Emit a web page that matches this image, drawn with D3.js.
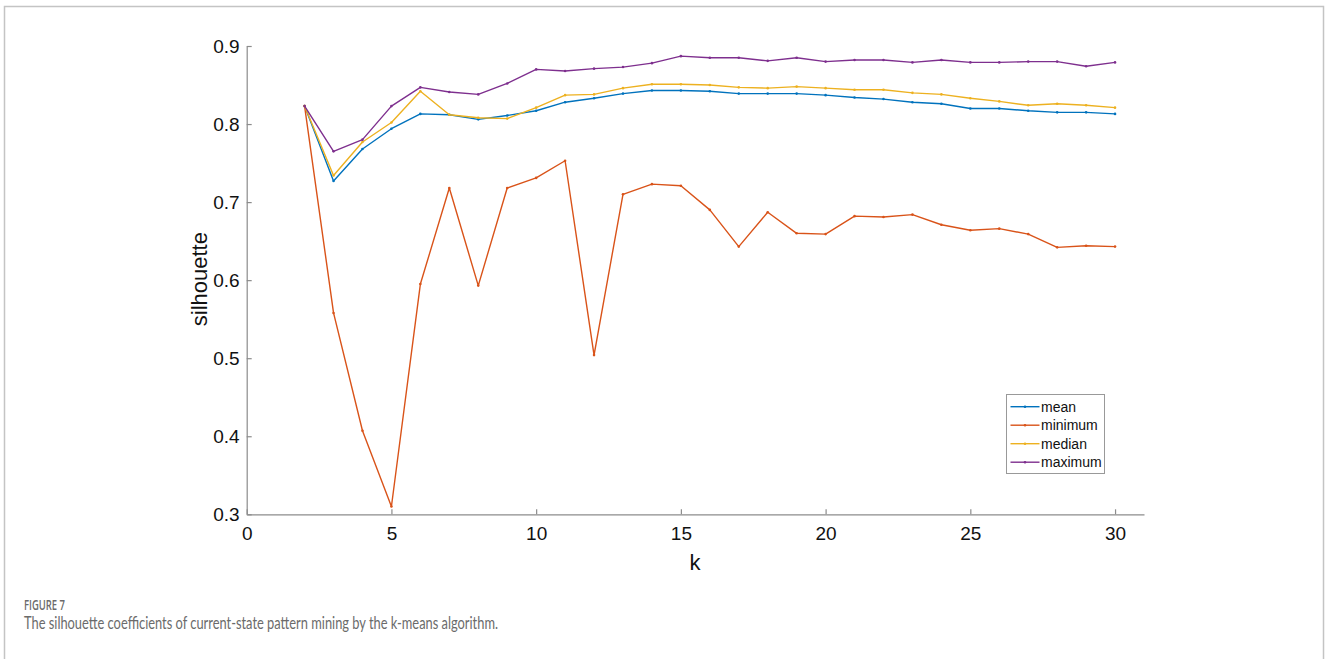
<!DOCTYPE html>
<html>
<head>
<meta charset="utf-8">
<script src="https://cdn.jsdelivr.net/npm/d3@7"></script>
<style>
  html, body { margin: 0; padding: 0; background: #fff; }
  svg { display: block; }
</style>
</head>
<body>
<svg id="chart" width="1328" height="659"></svg>
<script>
// ---- data ----
const kValues = [2,3,4,5,6,7,8,9,10,11,12,13,14,15,16,17,18,19,20,21,22,23,24,25,26,27,28,29,30];
const meanValues = [0.823,0.727,0.768,0.794,0.813,0.812,0.806,0.811,0.817,0.828,0.833,0.839,0.843,0.843,0.842,0.839,0.839,0.839,0.837,0.834,0.832,0.828,0.826,0.820,0.820,0.817,0.815,0.815,0.813];
const minimumValues = [0.823,0.558,0.407,0.310,0.595,0.718,0.593,0.718,0.731,0.753,0.504,0.710,0.723,0.721,0.690,0.643,0.687,0.660,0.659,0.682,0.681,0.684,0.671,0.664,0.666,0.659,0.642,0.644,0.643];
const medianValues = [0.823,0.734,0.777,0.802,0.842,0.812,0.808,0.807,0.821,0.837,0.838,0.846,0.851,0.851,0.850,0.847,0.846,0.848,0.846,0.844,0.844,0.840,0.838,0.833,0.829,0.824,0.826,0.824,0.821];
const maximumValues = [0.823,0.765,0.780,0.823,0.847,0.841,0.838,0.852,0.870,0.868,0.871,0.873,0.878,0.887,0.885,0.885,0.881,0.885,0.880,0.882,0.882,0.879,0.882,0.879,0.879,0.880,0.880,0.874,0.879];
const seriesNames = ["mean","minimum","median","maximum"];
const seriesColors = ["#0072BD","#D95319","#EDB120","#7E2F8E"];
const xTicks = [0,5,10,15,20,25,30];
const yTicks = [0.3,0.4,0.5,0.6,0.7,0.8,0.9];
const xLabel = "k";
const yLabel = "silhouette";
const figureLabel = "FIGURE 7";
const captionText = "The silhouette coefficients of current-state pattern mining by the k-means algorithm.";

const seriesValues = [meanValues, minimumValues, medianValues, maximumValues];

const svg = d3.select("#chart");

// frame
svg.append("rect")
  .attr("x", 4.5).attr("y", 6.5)
  .attr("width", 1319).attr("height", 720)
  .attr("fill", "none").attr("stroke", "#c4c4c4").attr("stroke-width", 1.5);

const plotLeft = 246.7, plotRight = 1144, plotTop = 46, plotBottom = 514.3;
const x = d3.scaleLinear().domain([0, 31]).range([plotLeft, plotRight]);
const y = d3.scaleLinear().domain([0.3, 0.9]).range([plotBottom, plotTop]);

const axisColor = "#8c8c8c";
const fontMain = "Liberation Sans, Arial, Helvetica, sans-serif";

// x axis
const gx = svg.append("g").attr("transform", `translate(0,${plotBottom})`)
  .call(d3.axisBottom(x).tickValues(xTicks).tickSize(-5).tickSizeOuter(0).tickPadding(12).tickFormat(d3.format("d")));
gx.select(".domain").attr("stroke", axisColor).attr("stroke-width", 1.2);
gx.selectAll(".tick line").attr("stroke", axisColor).attr("stroke-width", 1.2);
gx.selectAll(".tick text").attr("fill", "#111").attr("font-size", 19).attr("font-family", fontMain);

// y axis
const gy = svg.append("g").attr("transform", `translate(${plotLeft},0)`)
  .call(d3.axisLeft(y).tickValues(yTicks).tickSize(-5).tickSizeOuter(0).tickPadding(7).tickFormat(d3.format(".1f")));
gy.select(".domain").attr("stroke", axisColor).attr("stroke-width", 1.2);
gy.selectAll(".tick line").attr("stroke", axisColor).attr("stroke-width", 1.2);
gy.selectAll(".tick text").attr("fill", "#111").attr("font-size", 19).attr("font-family", fontMain);

// axis labels
svg.append("text").attr("x", (x(0) + x(30)) / 2 + 14).attr("y", 570)
  .attr("text-anchor", "middle").attr("font-size", 22).attr("fill", "#111")
  .attr("font-family", fontMain)
  .text(xLabel);
svg.append("text")
  .attr("transform", `translate(207,${(plotTop + plotBottom) / 2 - 1}) rotate(-90)`)
  .attr("text-anchor", "middle").attr("font-size", 22).attr("fill", "#111")
  .attr("font-family", fontMain)
  .text(yLabel);

// lines
const line = d3.line().x((d, i) => x(kValues[i])).y(d => y(d));
seriesValues.forEach((vals, si) => {
  svg.append("path").datum(vals)
    .attr("d", line)
    .attr("fill", "none")
    .attr("stroke", seriesColors[si])
    .attr("stroke-width", 1.4)
    .attr("stroke-linejoin", "round");
  svg.append("g").selectAll("circle").data(vals).join("circle")
    .attr("cx", (d, i) => x(kValues[i]))
    .attr("cy", d => y(d))
    .attr("r", 1.3)
    .attr("fill", seriesColors[si]);
});

// legend
const lg = svg.append("g");
lg.append("rect").attr("x", 1006.5).attr("y", 394.5).attr("width", 98).attr("height", 79)
  .attr("fill", "#fff").attr("stroke", "#999").attr("stroke-width", 1);
seriesNames.forEach((name, i) => {
  const yy = 406.7 + i * 18.5;
  lg.append("line").attr("x1", 1010.5).attr("x2", 1039.5).attr("y1", yy).attr("y2", yy)
    .attr("stroke", seriesColors[i]).attr("stroke-width", 1.4);
  lg.append("circle").attr("cx", 1025).attr("cy", yy).attr("r", 1.3).attr("fill", seriesColors[i]);
  lg.append("text").attr("x", 1041).attr("y", yy + 5)
    .attr("font-size", 14).attr("fill", "#111")
    .attr("font-family", fontMain)
    .text(name);
});

// caption
svg.append("text").attr("x", 24).attr("y", 610)
  .attr("font-size", 14).attr("fill", "#6b6b6b").attr("font-weight", 600)
  .attr("font-family", "Open Sans, Lato, sans-serif")
  .attr("textLength", 41).attr("lengthAdjust", "spacingAndGlyphs")
  .text(figureLabel);
svg.append("text").attr("x", 24).attr("y", 629)
  .attr("font-size", 17).attr("fill", "#6b6b6b")
  .attr("font-family", "Lato, Open Sans, sans-serif")
  .attr("textLength", 474).attr("lengthAdjust", "spacingAndGlyphs")
  .text(captionText);
</script>
</body>
</html>
